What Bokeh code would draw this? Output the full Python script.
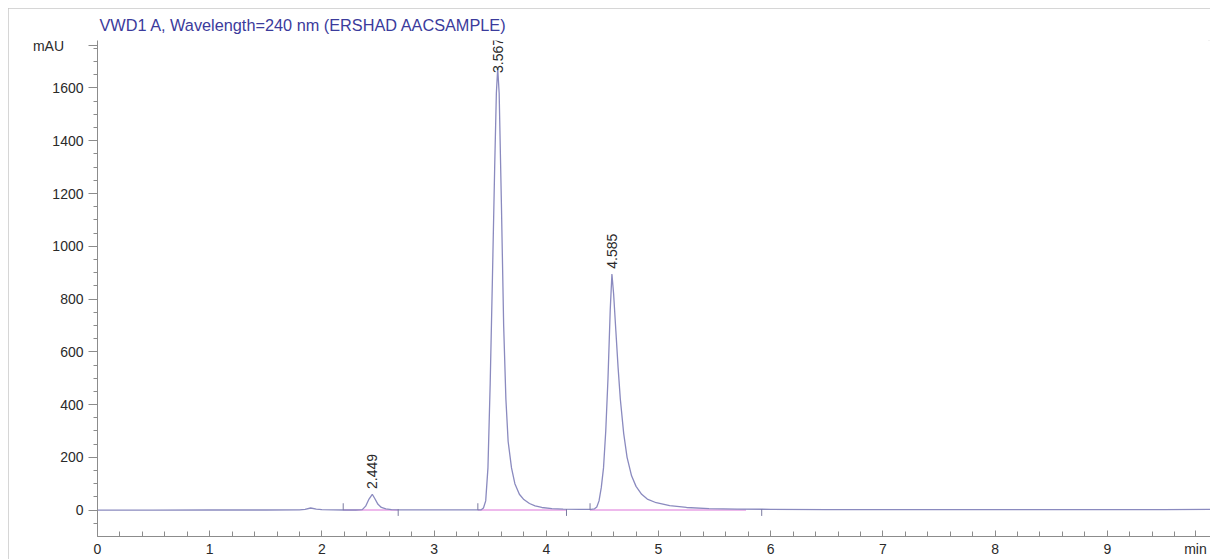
import numpy as np
from bokeh.plotting import figure
from bokeh.models import Range1d, FixedTicker, ColumnDataSource
from bokeh.core.properties import value
from bokeh.embed import file_html
from bokeh.resources import INLINE

# ---- chromatogram trace (time in min, signal in mAU)
trace_time = [0.00, 0.50, 1.00, 1.50, 1.80, 1.85, 1.90, 1.95, 2.00, 2.10, 2.20,
              2.30, 2.36, 2.39, 2.42, 2.449, 2.47, 2.50, 2.53, 2.57, 2.62, 2.70,
              2.90, 3.10, 3.30, 3.42, 3.44, 3.46, 3.48, 3.50, 3.52, 3.54, 3.555,
              3.567, 3.58, 3.60, 3.62, 3.64, 3.66, 3.69, 3.72, 3.76, 3.80, 3.85,
              3.90, 3.96, 4.05, 4.15, 4.30, 4.40, 4.43, 4.45, 4.47, 4.49, 4.51,
              4.53, 4.55, 4.57, 4.585, 4.60, 4.62, 4.64, 4.66, 4.69, 4.72, 4.76,
              4.80, 4.85, 4.90, 4.98, 5.10, 5.25, 5.45, 5.70, 6.00, 6.50, 7.00,
              8.00, 9.00, 9.50, 9.92]
trace_mau = [0, 0, 0.5, 0.5, 1, 3, 8, 4, 2, 1, 0.5,
             0.5, 2, 15, 42, 60, 45, 22, 10, 5, 2, 1,
             1, 1, 1, 1, 8, 35, 160, 480, 880, 1300, 1580,
             1675, 1580, 1160, 700, 420, 260, 160, 100, 60, 40, 25,
             16, 10, 6, 4, 3, 3, 5, 12, 35, 85, 160,
             300, 500, 760, 895, 820, 680, 540, 420, 290, 200, 130,
             90, 60, 42, 28, 17, 10, 6, 4, 3, 2, 2,
             2, 2, 2, 3]

# ---- labelled peaks
peak_times = [2.449, 3.567, 4.585]
peak_heights = [60, 1675, 895]
peak_labels = ["2.449", "3.567", "4.585"]

# ---- integration baselines (start / end of each peak)
base_start = [2.19, 3.39, 4.39]
base_end = [2.68, 4.18, 5.78]
mark_end = [2.68, 4.18, 5.92]

# ---- axis ticks / labels
x_major = [0, 1, 2, 3, 4, 5, 6, 7, 8, 9]
x_unit_pos = 9.786
x_unit = "min"
y_major = [0, 200, 400, 600, 800, 1000, 1200, 1400, 1600]
y_unit_pos = 1760
y_unit = "mAU"

FONT = "Liberation Sans"
TRACE = "#8a8abf"
TXT = "#2a2a2a"
AXC = "#8c8c8c"

p = figure(width=1202, height=551, output_backend="svg", toolbar_location=None,
           x_range=Range1d(0, 9.92), y_range=Range1d(-100, 1780),
           min_border_left=89, min_border_right=0, min_border_top=32,
           min_border_bottom=22, background_fill_color="white",
           border_fill_color="white")
p.styles = {"margin-left": "8px", "margin-top": "8px",
            "outline": "2px solid #c8c8c8", "outline-offset": "-2px"}
p.outline_line_color = None
p.xgrid.visible = False
p.ygrid.visible = False

p.title.text = "VWD1 A, Wavelength=240 nm (ERSHAD AACSAMPLE)"
p.title.text_font = FONT
p.title.text_font_size = "16.3px"
p.title.text_font_style = "normal"
p.title.text_color = "#3b3b9c"
p.title.align = "left"
p.title.offset = 2
p.title.vertical_align = "top"
p.title.standoff = 10
p.title.text_line_height = 0.7

# x axis
xa = p.xaxis[0]
xa.ticker = FixedTicker(ticks=x_major + [x_unit_pos],
                        minor_ticks=[round(v, 1) for v in np.arange(0, 9.75, 0.2)])
xa.major_label_overrides = {x_unit_pos: x_unit}
xa.axis_line_color = AXC
xa.major_tick_line_color = AXC
xa.minor_tick_line_color = AXC
xa.major_tick_in = 6
xa.major_tick_out = 0
xa.minor_tick_in = 5
xa.minor_tick_out = 0
xa.major_label_standoff = 4
xa.major_label_text_font = FONT
xa.major_label_text_font_size = "14px"
xa.major_label_text_color = TXT

# y axis
ya = p.yaxis[0]
ya.ticker = FixedTicker(ticks=y_major + [y_unit_pos],
                        minor_ticks=list(range(-50, 1800, 50)))
ya.major_label_overrides = {y_unit_pos: y_unit + "\u00a0" * 5}
ya.axis_line_color = AXC
ya.major_tick_line_color = AXC
ya.minor_tick_line_color = AXC
ya.major_tick_in = 0
ya.major_tick_out = 9
ya.minor_tick_in = 0
ya.minor_tick_out = 4
ya.major_label_standoff = 5
ya.major_label_text_font = FONT
ya.major_label_text_font_size = "14px"
ya.major_label_text_color = TXT

# integration baselines
p.segment(x0=base_start, y0=[0.5] * 3, x1=base_end, y1=[0.5] * 3,
          line_color="#e8a2e6", line_width=1.5)

# trace
p.line(trace_time, trace_mau, line_color=TRACE, line_width=1.3)

# peak start / end markers
p.segment(x0=base_start, y0=[0] * 3, x1=base_start, y1=[26] * 3,
          line_color="#7a7aa0", line_width=1)
p.segment(x0=mark_end, y0=[4] * 3, x1=mark_end, y1=[-22] * 3,
          line_color="#7a7aa0", line_width=1)

# peak labels
src = ColumnDataSource(dict(x=peak_times,
                            y=[h + 20 if h < 1000 else h - 18 for h in peak_heights],
                            t=peak_labels))
p.text(x="x", y="y", text="t", source=src, angle=np.pi / 2,
       text_align="left", text_baseline="middle",
       text_font=value(FONT), text_font_size="14px", text_color=TXT)

open("out.html", "w").write(file_html(p, INLINE))
